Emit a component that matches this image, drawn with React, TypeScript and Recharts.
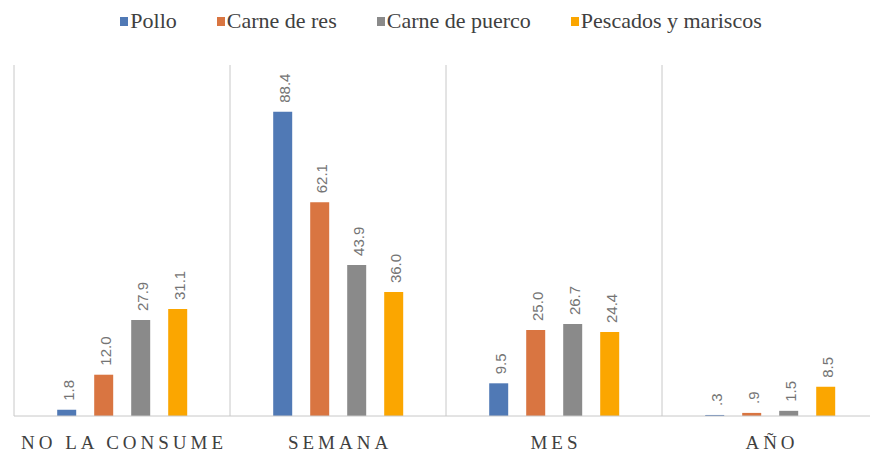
import React from "react";
import {
  BarChart,
  Bar,
  XAxis,
  YAxis,
  CartesianGrid,
  Legend,
  LabelList,
} from "recharts";

const categories = ["NO LA CONSUME", "SEMANA", "MES", "AÑO"];
const pollo = [1.8, 88.4, 9.5, 0.3];
const carneRes = [12.0, 62.1, 25.0, 0.9];
const carnePuerco = [27.9, 43.9, 26.7, 1.5];
const pescados = [31.1, 36.0, 24.4, 8.5];

const series = [
  { key: "pollo", name: "Pollo", color: "#5079b5", values: pollo },
  { key: "res", name: "Carne de res", color: "#d97541", values: carneRes },
  { key: "puerco", name: "Carne de puerco", color: "#8a8a8a", values: carnePuerco },
  { key: "pescados", name: "Pescados y mariscos", color: "#fba600", values: pescados },
];

const data = categories.map((c, i) => {
  const row: Record<string, string | number> = { cat: c };
  series.forEach((s) => (row[s.key] = s.values[i]));
  return row;
});

const fmt = (v: number) => {
  const s = v.toFixed(1);
  return v < 1 ? s.replace(/^0/, "") : s;
};

const ValueLabel = (props: any) => {
  const { x, y, width, value } = props;
  const cx = x + width / 2 + 2;
  const cy = y - 9;
  return (
    <text
      transform={`translate(${cx},${cy}) rotate(-90)`}
      textAnchor="start"
      dominantBaseline="central"
      fontFamily="'Liberation Sans', Arial, sans-serif"
      fontSize={15}
      fill="#747474"
    >
      {fmt(Number(value))}
    </text>
  );
};

const CatTick = (props: any) => {
  const { x, y, payload } = props;
  return (
    <text
      x={x + 2}
      y={y + 25}
      textAnchor="middle"
      fontFamily="'Liberation Serif', 'Times New Roman', serif"
      fontSize={19}
      letterSpacing={4}
      fill="#404040"
    >
      {payload.value}
    </text>
  );
};

const LegendContent = () => (
  <div
    style={{
      display: "flex",
      justifyContent: "center",
      alignItems: "center",
      paddingLeft: 52,
      height: 30,
      fontFamily: "'Liberation Serif', 'Times New Roman', serif",
      fontSize: 22,
      color: "#404040",
    }}
  >
    {series.map((s) => (
      <div key={s.key} style={{ display: "flex", alignItems: "center", marginRight: 40 }}>
        <span style={{ width: 8, height: 9, background: s.color, display: "inline-block", marginRight: 2 }} />
        <span>{s.name}</span>
      </div>
    ))}
  </div>
);

export default function App() {
  return (
    <div style={{ position: "absolute", left: 0, top: 0, width: 870, height: 453, overflow: "hidden", background: "#fff" }}>
      <BarChart
        width={890}
        height={453}
        data={data}
        margin={{ top: 35, right: 12, left: 14, bottom: 0 }}
        barCategoryGap="20%"
        barGap={18}
      >
        <CartesianGrid
          horizontal={false}
          stroke="#c8c8c8"
          verticalCoordinatesGenerator={({ offset }: any) =>
            [0, 1, 2, 3, 4].map((i) => offset.left + (i * offset.width) / 4)
          }
        />
        <XAxis
          dataKey="cat"
          axisLine={{ stroke: "#c8c8c8" }}
          tickLine={false}
          height={37}
          tick={<CatTick />}
          interval={0}
        />
        <YAxis hide domain={[0, 102]} />
        <Legend
          verticalAlign="top"
          content={<LegendContent />}
          wrapperStyle={{ top: 6, left: 0, width: 870 }}
        />
        {series.map((s) => (
          <Bar key={s.key} dataKey={s.key} name={s.name} fill={s.color} isAnimationActive={false}>
            <LabelList dataKey={s.key} content={<ValueLabel />} />
          </Bar>
        ))}
      </BarChart>
    </div>
  );
}
